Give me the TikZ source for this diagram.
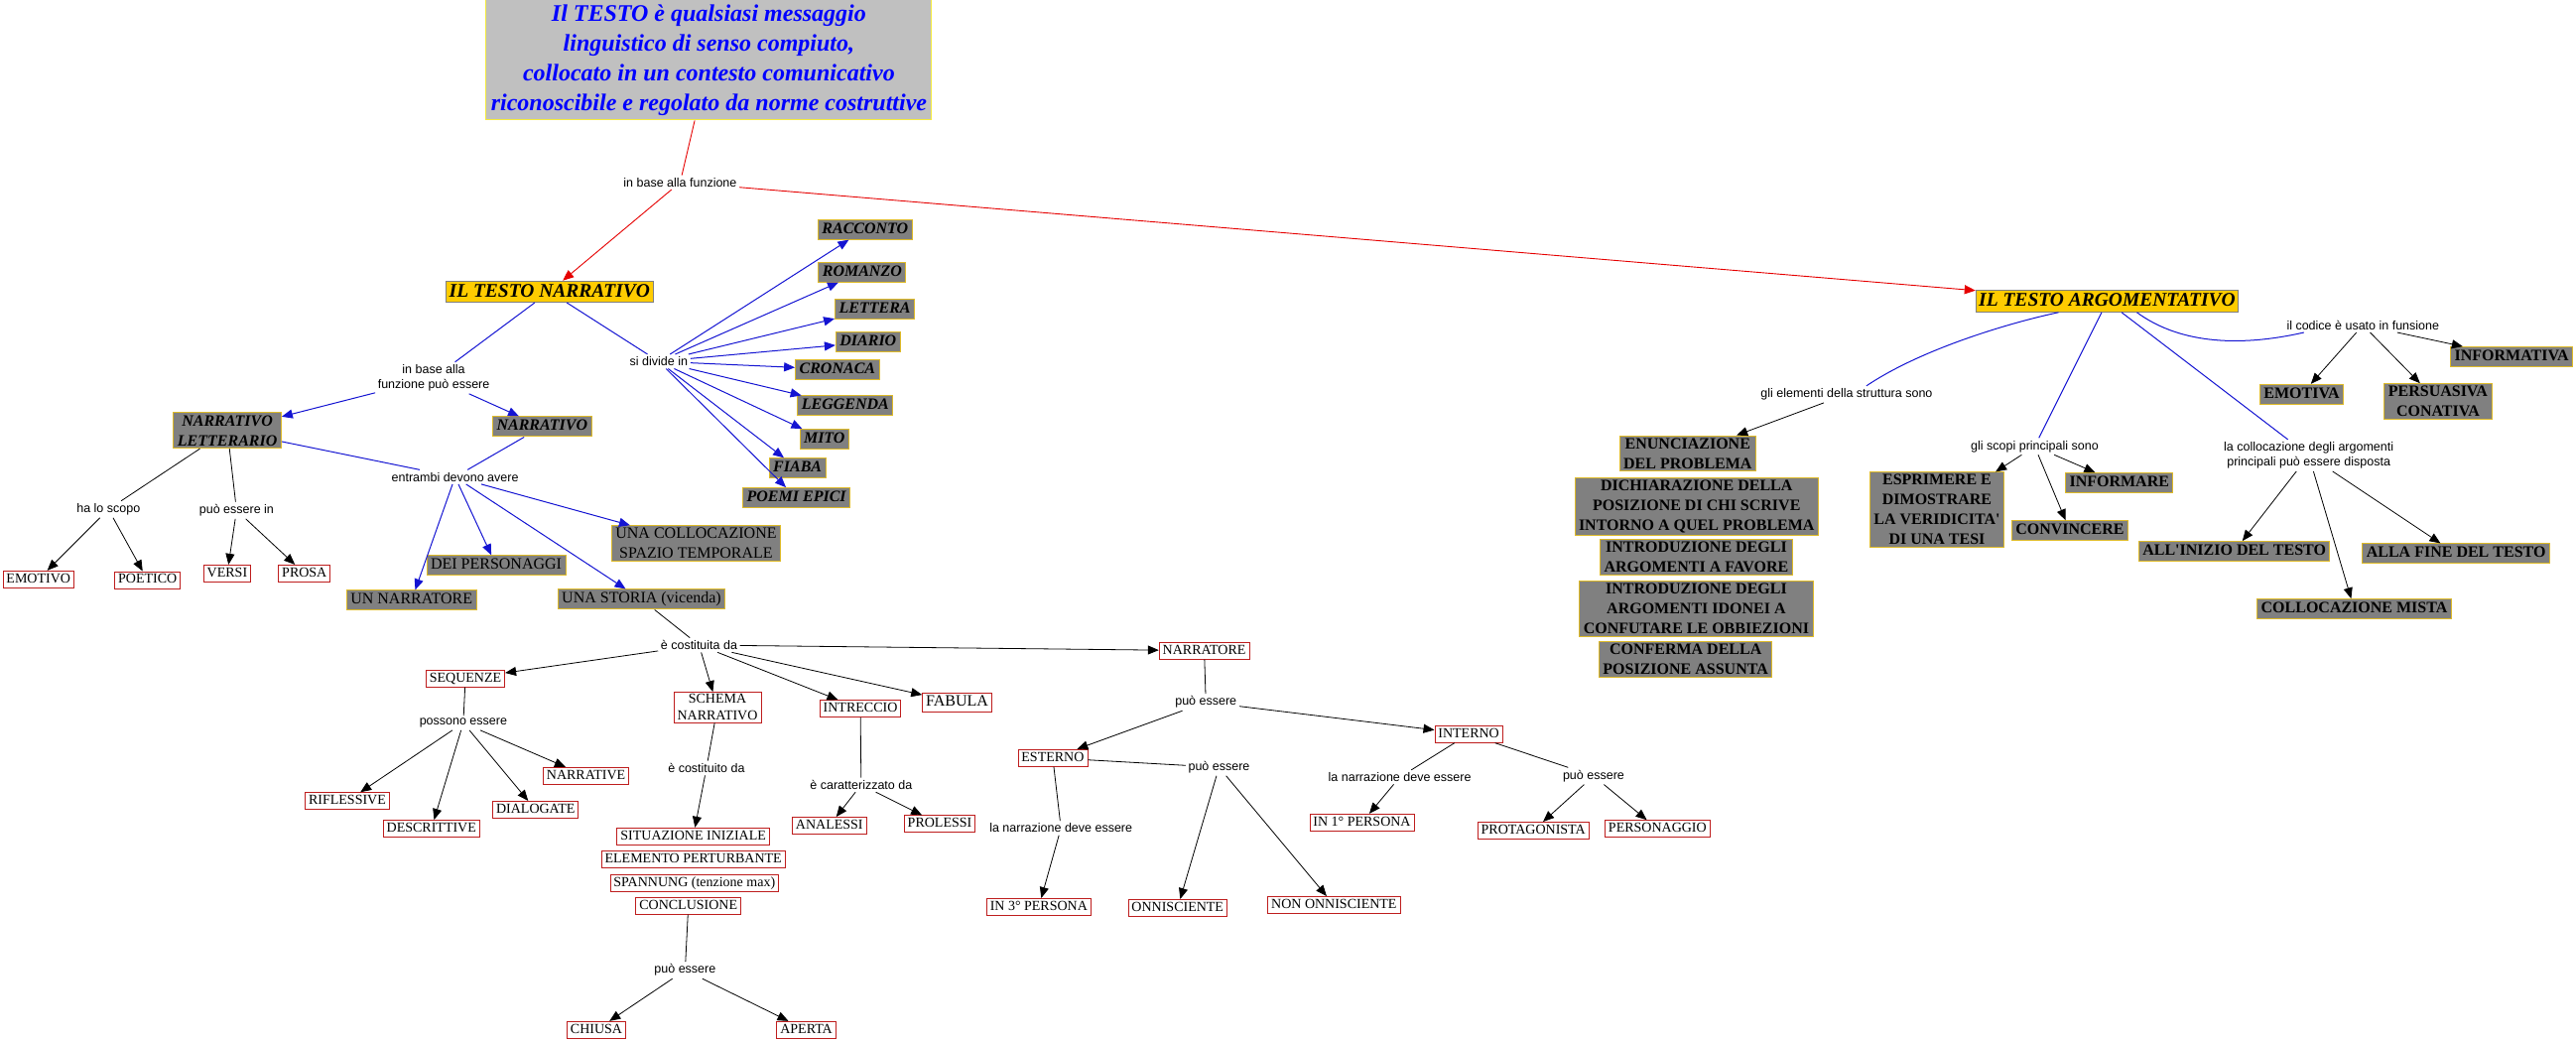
\documentclass[tikz,border=0pt]{standalone}
\usepackage{fontspec}
\setmainfont{Liberation Serif}
\setsansfont{Liberation Sans}
\usetikzlibrary{arrows.meta}

\definecolor{grigiochiaro}{RGB}{192,192,192}
\definecolor{grigioscuro}{RGB}{128,128,128}
\definecolor{arancio}{RGB}{255,204,0}
\definecolor{oro}{RGB}{222,186,40}
\definecolor{giallo}{RGB}{245,235,60}
\definecolor{rosso}{RGB}{190,30,30}
\definecolor{rossofreccia}{RGB}{230,0,0}
\definecolor{blulinea}{RGB}{20,20,210}

\tikzset{
  titolo/.style={draw=giallo, fill=grigiochiaro, text=blue, line width=1pt, align=center,
    inner sep=2pt, minimum width=449pt, minimum height=121pt,
    font=\fontsize{24}{30}\selectfont\bfseries\itshape},
  tipo/.style={draw=grigioscuro, fill=arancio, line width=0.8pt, inner xsep=3pt, inner ysep=2.5pt,
    text height=13.5pt, text depth=3pt, font=\fontsize{19.5}{22}\selectfont\bfseries\itshape},
  grigio/.style={draw=oro, fill=grigioscuro, line width=1pt, align=center, inner xsep=4pt,
    inner ysep=2.5pt, text height=11.5pt, text depth=3.5pt, font=\fontsize{16}{20}\selectfont},
  grigiobi/.style={grigio, font=\fontsize{16}{20}\selectfont\bfseries\itshape},
  grigiob/.style={grigio, font=\fontsize{16}{20}\selectfont\bfseries},
  bianco/.style={draw=rosso, fill=white, line width=0.8pt, align=center, inner xsep=3.5pt,
    inner ysep=2pt, text height=10pt, text depth=3pt, font=\fontsize{14}{17}\selectfont},
  frase/.style={inner sep=2.5pt, align=center, font=\sffamily\fontsize{12.5}{15}\selectfont},
  linea/.style={draw=black, line width=0.8pt},
  freccia/.style={linea, -{Triangle[length=11pt,width=9pt]}},
  lineablu/.style={draw=blulinea, line width=1pt},
  frecciablu/.style={lineablu, -{Triangle[length=11pt,width=9pt]}},
  linearossa/.style={draw=rossofreccia, line width=0.9pt},
  frecciarossa/.style={linearossa, -{Triangle[length=11pt,width=9pt]}},
}

\begin{document}
\begin{tikzpicture}[x=1.6556pt,y=-1.6556pt]
\fill[white] (0,0) rectangle (1568,633.6);
\useasboundingbox (0,0) rectangle (1568,633.6);

\node[titolo] (testo) at (431.5,36.5) {Il TESTO è qualsiasi messaggio\\linguistico di senso compiuto,\\collocato in un contesto comunicativo\\riconoscibile e regolato da norme costruttive};
\node[frase] (fun) at (414,111) {in base alla funzione};
\node[tipo] (narr) at (334.5,177.5) {IL TESTO NARRATIVO};
\node[tipo] (arg) at (1282.6,183.4) {IL TESTO ARGOMENTATIVO};

% testo narrativo
\node[frase] (funz) at (264,230) {in base alla\\funzione può essere};
\node[frase] (divide) at (401,220) {si divide in};
\node[grigiobi] (racconto) at (526.6,139.6) {RACCONTO};
\node[grigiobi] (romanzo) at (524.8,165.5) {ROMANZO};
\node[grigiobi] (lettera) at (532.5,188) {LETTERA};
\node[grigiobi] (diario) at (528.4,208.3) {DIARIO};
\node[grigiobi] (cronaca) at (509.7,224.8) {CRONACA};
\node[grigiobi] (leggenda) at (514.5,247) {LEGGENDA};
\node[grigiobi] (mito) at (501.8,267.3) {MITO};
\node[grigiobi] (fiaba) at (485.4,285) {FIABA};
\node[grigiobi] (poemi) at (484.8,303) {POEMI EPICI};
\node[grigiobi, text height=, text depth=] (letterario) at (138.4,262) {NARRATIVO\\LETTERARIO};
\node[grigiobi] (narrativo) at (330,259.7) {NARRATIVO};
\node[frase] (entrambi) at (277,290.3) {entrambi devono avere};
\node[frase] (scopo) at (66,310) {ha lo scopo};
\node[frase] (versiin) at (144,310.6) {può essere in};
\node[bianco] (emotivo) at (23.4,352.6) {EMOTIVO};
\node[bianco] (poetico) at (89.8,353) {POETICO};
\node[bianco] (versi) at (138.3,349) {VERSI};
\node[bianco] (prosa) at (185.3,349) {PROSA};
\node[grigio] (unnarratore) at (250.5,365.4) {UN NARRATORE};
\node[grigio] (personaggi) at (302,344.2) {DEI PERSONAGGI};
\node[grigio] (storia) at (390.5,364.8) {UNA STORIA (vicenda)};
\node[grigio, text height=, text depth=] (colloc) at (423.7,330.8) {UNA COLLOCAZIONE\\SPAZIO TEMPORALE};

\node[frase] (costituita) at (425.5,392.6) {è costituita da};
\node[bianco] (sequenze) at (283.3,413) {SEQUENZE};
\node[bianco, text height=, text depth=] (schema) at (436.7,430.5) {SCHEMA\\NARRATIVO};
\node[bianco] (intreccio) at (523.7,431.3) {INTRECCIO};
\node[bianco, text height=11.5pt, text depth=3.5pt, font=\fontsize{16}{19}\selectfont] (fabula) at (582.6,427.6) {FABULA};
\node[bianco] (narratore) at (733,396) {NARRATORE};

\node[frase] (possono) at (282,440) {possono essere};
\node[bianco] (riflessive) at (211.4,487.5) {RIFLESSIVE};
\node[bianco] (descrittive) at (262.6,504.3) {DESCRITTIVE};
\node[bianco] (dialogate) at (326,492.8) {DIALOGATE};
\node[bianco] (narrative) at (356.7,472.2) {NARRATIVE};

\node[frase] (costituito) at (430,467.5) {è costituito da};
\node[bianco] (situazione) at (422,509) {SITUAZIONE INIZIALE};
\node[bianco] (elemento) at (422,523) {ELEMENTO PERTURBANTE};
\node[bianco] (spannung) at (422.7,537.3) {SPANNUNG (tenzione max)};
\node[bianco] (conclusione) at (419,551.3) {CONCLUSIONE};
\node[frase] (puoconcl) at (417,590.5) {può essere};
\node[bianco] (chiusa) at (363,626.8) {CHIUSA};
\node[bianco] (aperta) at (490.8,626.8) {APERTA};

\node[frase] (caratt) at (524.2,477.7) {è caratterizzato da};
\node[bianco] (analessi) at (504.8,502.5) {ANALESSI};
\node[bianco] (prolessi) at (572,501.5) {PROLESSI};

\node[frase] (puonarr) at (734,427.4) {può essere};
\node[bianco] (esterno) at (640.8,461.3) {ESTERNO};
\node[bianco] (interno) at (894,446.8) {INTERNO};
\node[frase] (puoest) at (742,467) {può essere};
\node[frase] (deveest) at (645.8,504) {la narrazione deve essere};
\node[bianco] (terza) at (632.3,552) {IN 3° PERSONA};
\node[bianco] (onni) at (716.8,552.6) {ONNISCIENTE};
\node[bianco] (nononni) at (812,550.8) {NON ONNISCIENTE};
\node[frase] (deveint) at (852,473) {la narrazione deve essere};
\node[bianco] (prima) at (829,500.6) {IN 1° PERSONA};
\node[frase] (puoint) at (970,472.3) {può essere};
\node[bianco] (protagonista) at (933.3,505.5) {PROTAGONISTA};
\node[bianco] (personaggio) at (1008.9,504.4) {PERSONAGGIO};

% testo argomentativo
\node[frase] (elementi) at (1124,240) {gli elementi della struttura sono};
\node[grigiob, text height=, text depth=] (enunciazione) at (1027.3,276) {ENUNCIAZIONE\\DEL PROBLEMA};
\node[grigiob, text height=, text depth=] (dichiarazione) at (1032.7,308.5) {DICHIARAZIONE DELLA\\POSIZIONE DI CHI SCRIVE\\INTORNO A QUEL PROBLEMA};
\node[grigiob, text height=, text depth=] (favore) at (1032.5,339.3) {INTRODUZIONE DEGLI\\ARGOMENTI A FAVORE};
\node[grigiob, text height=, text depth=] (obbiezioni) at (1032.5,370.7) {INTRODUZIONE DEGLI\\ARGOMENTI IDONEI A\\CONFUTARE LE OBBIEZIONI};
\node[grigiob, text height=, text depth=] (conferma) at (1026,401.4) {CONFERMA DELLA\\POSIZIONE ASSUNTA};
\node[frase] (scopi) at (1238.5,271.7) {gli scopi principali sono};
\node[grigiob, text height=, text depth=] (esprimere) at (1179,310.3) {ESPRIMERE E\\DIMOSTRARE\\LA VERIDICITA\textquotesingle\\DI UNA TESI};
\node[grigiob] (informare) at (1290,293.9) {INFORMARE};
\node[grigiob] (convincere) at (1259.9,323) {CONVINCERE};
\node[frase] (collocazione) at (1405.3,277.2) {la collocazione degli argomenti\\principali può essere disposta};
\node[grigiob] (inizio) at (1360,335.6) {ALL\textquotesingle INIZIO DEL TESTO};
\node[grigiob] (fine) at (1495,337) {ALLA FINE DEL TESTO};
\node[grigiob] (mista) at (1433,370.7) {COLLOCAZIONE MISTA};
\node[frase] (codice) at (1438.3,197.9) {il codice è usato in funsione};
\node[grigiob] (informativa) at (1528.8,217.2) {INFORMATIVA};
\node[grigiob] (emotiva) at (1401,240) {EMOTIVA};
\node[grigiob, text height=, text depth=] (persuasiva) at (1484,244.4) {PERSUASIVA\\CONATIVA};

\draw[linearossa] (testo) -- (fun);
\draw[frecciarossa] (fun) -- (narr);
\draw[frecciarossa] (fun) -- (arg);

\draw[lineablu] (narr) -- (funz);
\draw[frecciablu] (funz) -- (letterario);
\draw[frecciablu] (funz) -- (narrativo);
\draw[lineablu] (narr) -- (divide);
\draw[frecciablu] (divide) -- (racconto);
\draw[frecciablu] (divide) -- (romanzo);
\draw[frecciablu] (divide) -- (lettera);
\draw[frecciablu] (divide) -- (diario);
\draw[frecciablu] (divide) -- (cronaca);
\draw[frecciablu] (divide) -- (leggenda);
\draw[frecciablu] (divide) -- (mito);
\draw[frecciablu] (divide) -- (fiaba);
\draw[frecciablu] (divide) -- (poemi);
\draw[lineablu] (letterario) -- (entrambi);
\draw[lineablu] (narrativo) -- (entrambi);
\draw[frecciablu] (entrambi) -- (unnarratore);
\draw[frecciablu] (entrambi) -- (personaggi);
\draw[frecciablu] (entrambi) -- (storia);
\draw[frecciablu] (entrambi) -- (colloc);

\draw[linea] (letterario) -- (scopo);
\draw[linea] (letterario) -- (versiin);
\draw[freccia] (scopo) -- (emotivo);
\draw[freccia] (scopo) -- (poetico);
\draw[freccia] (versiin) -- (versi);
\draw[freccia] (versiin) -- (prosa);

\draw[linea] (storia) -- (costituita);
\draw[freccia] (costituita) -- (sequenze);
\draw[freccia] (costituita) -- (schema);
\draw[freccia] (costituita) -- (intreccio);
\draw[freccia] (costituita) -- (fabula);
\draw[freccia] (costituita) -- (narratore);
\draw[linea] (sequenze) -- (possono);
\draw[freccia] (possono) -- (riflessive);
\draw[freccia] (possono) -- (descrittive);
\draw[freccia] (possono) -- (dialogate);
\draw[freccia] (possono) -- (narrative);
\draw[linea] (schema) -- (costituito);
\draw[freccia] (costituito) -- (situazione);
\draw[linea] (conclusione) -- (puoconcl);
\draw[freccia] (puoconcl) -- (chiusa);
\draw[freccia] (puoconcl) -- (aperta);
\draw[linea] (intreccio) -- (caratt);
\draw[freccia] (caratt) -- (analessi);
\draw[freccia] (caratt) -- (prolessi);

\draw[linea] (narratore) -- (puonarr);
\draw[freccia] (puonarr) -- (esterno);
\draw[freccia] (puonarr) -- (interno);
\draw[linea] (esterno) -- (puoest);
\draw[freccia] (puoest) -- (onni);
\draw[freccia] (puoest) -- (nononni);
\draw[linea] (esterno) -- (deveest);
\draw[freccia] (deveest) -- (terza);
\draw[linea] (interno) -- (deveint);
\draw[freccia] (deveint) -- (prima);
\draw[linea] (interno) -- (puoint);
\draw[freccia] (puoint) -- (protagonista);
\draw[freccia] (puoint) -- (personaggio);

\draw[lineablu] ([xshift=-49pt]arg.south) .. controls (1225,196) and (1170,212) .. ([xshift=20pt]elementi.north);
\draw[lineablu] (arg) -- (scopi);
\draw[lineablu] (arg) -- (collocazione);
\draw[lineablu] ([xshift=30pt]arg.south) .. controls (1325,208) and (1360,212) .. ([xshift=20pt]codice.south west);
\draw[freccia] (elementi) -- (enunciazione);
\draw[freccia] (scopi) -- (esprimere);
\draw[freccia] (scopi) -- (informare);
\draw[freccia] (scopi) -- (convincere);
\draw[freccia] (collocazione) -- (inizio);
\draw[freccia] (collocazione) -- (mista);
\draw[freccia] (collocazione) -- (fine);
\draw[freccia] (codice) -- (emotiva);
\draw[freccia] (codice) -- (persuasiva);
\draw[freccia] (codice) -- (informativa);
\end{tikzpicture}
\end{document}
